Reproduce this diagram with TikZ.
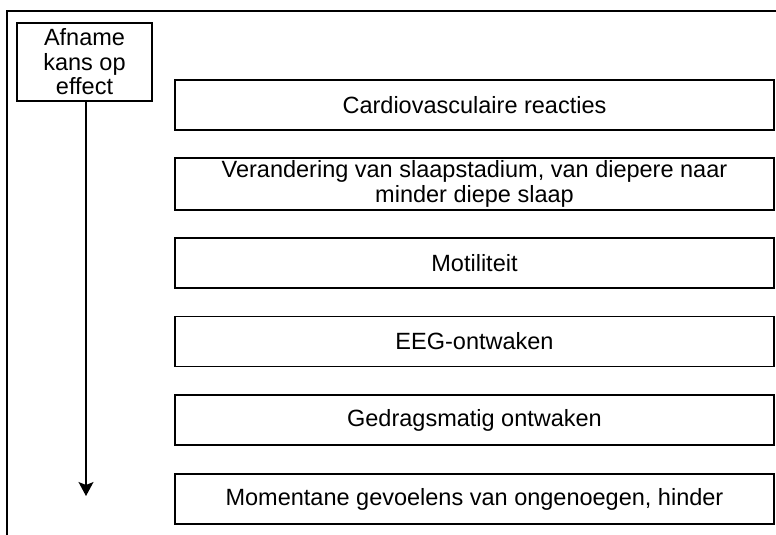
\documentclass[tikz,border=0pt]{standalone}
\usepackage{fontspec}
\setmainfont{Liberation Sans}
\usetikzlibrary{arrows.meta}
\begin{document}
\begin{tikzpicture}[x=1pt,y=-1pt,
  font=\fontsize{23.5}{24.5}\selectfont,
  frameline/.style={line width=1.8pt},
  effectbox/.style={draw, line width=1.4pt, rectangle, inner sep=0pt,
    minimum width=599pt, minimum height=50pt, align=center},
  labelbox/.style={draw, line width=1.4pt, rectangle, inner sep=0pt,
    minimum width=135pt, minimum height=78pt, align=center},
  trend/.style={line width=1.4pt, -{Stealth[length=14pt,width=15pt,inset=3pt]}}]
\useasboundingbox (0,0) rectangle (776,535);

% open outer frame (left and top edges)
\draw[frameline] (7,545) -- (7,11) -- (790,11);

% label and downward trend arrow
\node[labelbox] (lbl) at (84.5,62) {Afname\\kans op\\effect};
\coordinate (tip) at (86,496);
\draw[trend] (lbl.south -| tip) -- (tip);

% effect boxes, from most to least likely
\node[effectbox] (e1) at (474.5,105)   {Cardiovasculaire reacties};
\node[effectbox, minimum height=52pt] (e2) at (474.5,184)
  {Verandering van slaapstadium, van diepere naar\\minder diepe slaap};
\node[effectbox] (e3) at (474.5,263)   {Motiliteit};
\node[effectbox] (e4) at (474.5,341.5) {EEG-ontwaken};
\node[effectbox] (e5) at (474.5,420)   {Gedragsmatig ontwaken};
\node[effectbox] (e6) at (474.5,499)   {Momentane gevoelens van ongenoegen, hinder};
\end{tikzpicture}
\end{document}
